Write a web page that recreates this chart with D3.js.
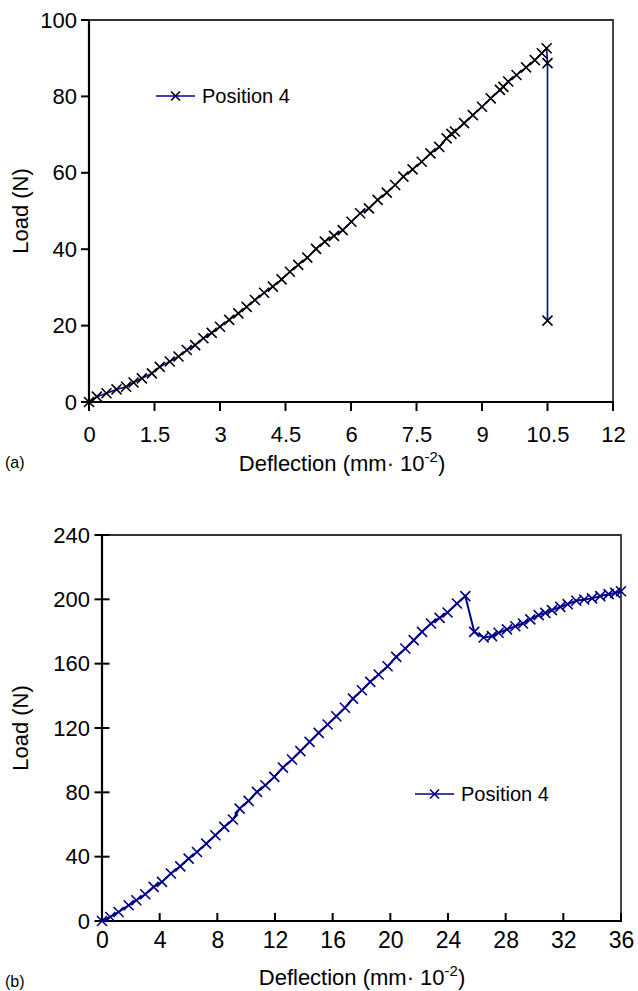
<!DOCTYPE html>
<html><head><meta charset="utf-8">
<script src="https://cdn.jsdelivr.net/npm/d3@7"></script>
<style>body{margin:0;background:#fff}svg{display:block}text{font-family:"Liberation Sans",Arial,sans-serif}</style>
</head><body>
<script>
// ---- Data ----
const topDeflection = [0,0.18,0.40,0.63,0.85,1.02,1.21,1.44,1.62,1.85,2.05,2.24,2.43,2.62,2.81,3.00,3.21,3.42,3.61,3.80,4.01,4.21,4.41,4.60,4.79,5.00,5.20,5.40,5.61,5.81,6.01,6.21,6.41,6.61,6.82,7.01,7.20,7.41,7.62,7.82,8.02,8.19,8.30,8.38,8.59,8.79,9.00,9.20,9.41,9.49,9.60,9.79,10.01,10.21,10.37,10.48,10.50,10.50];
const topLoad = [0,1.4,2.3,3.3,4.0,5.1,6.2,7.5,9.2,10.6,11.9,13.6,14.9,16.7,18.1,19.7,21.5,23.2,24.9,26.7,28.6,30.2,32.1,34.1,35.9,37.8,40.1,42.0,43.5,45.0,47.2,49.4,50.7,52.9,54.8,56.8,59.0,60.9,62.9,65.1,66.8,69.0,70.2,70.8,73.0,75.1,77.3,79.5,81.7,82.5,83.9,85.6,87.6,89.5,91.3,92.6,88.7,21.3];
const bottomDeflection = [0,0.58,1.15,1.85,2.38,3.0,3.58,4.16,4.78,5.43,6.01,6.59,7.23,7.86,8.48,9.08,9.55,10.17,10.75,11.33,11.95,12.55,13.18,13.76,14.40,15.03,15.65,16.25,16.85,17.41,18.03,18.61,19.19,19.81,20.41,21.04,21.62,22.20,22.82,23.42,23.97,24.62,25.20,25.82,26.47,27.05,27.51,28.09,28.67,29.20,29.71,30.29,30.75,31.21,31.79,32.30,32.90,33.45,33.99,34.56,35.14,35.60,36.0];
const bottomLoad = [0,2.5,5.6,9.8,12.9,16.6,21.2,24.3,29.5,34.0,38.8,42.9,48.1,53.3,58.5,63.1,69.9,74.7,80.3,84.4,89.6,95.4,100.4,105.6,111.4,117.0,122.2,127.3,132.6,138.3,143.5,148.7,153.3,158.4,164.2,169.4,174.6,179.8,185.0,188.5,191.8,197.4,202.0,179.8,176.3,177.1,179.2,181.3,183.3,185.0,187.5,190.2,191.6,193.3,195.3,197.0,199.1,199.9,200.6,202.0,203.2,204.0,205.0];
const topXTicks = [0,1.5,3,4.5,6,7.5,9,10.5,12];
const topYTicks = [0,20,40,60,80,100];
const bottomXTicks = [0,4,8,12,16,20,24,28,32,36];
const bottomYTicks = [0,40,80,120,160,200,240];
const seriesName = "Position 4";
const yTitle = "Load (N)";

const svg = d3.select("body").append("svg").attr("width",638).attr("height",991);

function xMark(g, pts, color, r){
  g.selectAll(null).data(pts).enter().append("path")
    .attr("d", d=>`M${d[0]-r},${d[1]-r}L${d[0]+r},${d[1]+r}M${d[0]-r},${d[1]+r}L${d[0]+r},${d[1]-r}`)
    .attr("stroke", color).attr("stroke-width",1.6).attr("fill","none");
}

function panel(o){
  const x = d3.scaleLinear().domain(o.xd).range([o.L,o.R]);
  const y = d3.scaleLinear().domain(o.yd).range([o.B,o.T]);
  const g = svg.append("g");
  g.append("path").attr("d",`M${o.L},${o.T}H${o.R}V${o.B}`).attr("fill","none").attr("stroke","#333").attr("stroke-width",1.8);
  const xa = g.append("g").attr("transform",`translate(0,${o.B})`)
    .call(d3.axisBottom(x).tickValues(o.xt).tickFormat(d=>String(d)).tickSize(0).tickPadding(o.xPad));
  xa.select(".domain").remove();
  xa.selectAll("text").attr("font-size",o.xfs).attr("fill","#000").attr("font-family","Liberation Sans, Arial, sans-serif");
  g.selectAll(null).data(o.xt).enter().append("line")
    .attr("x1",d=>x(d)).attr("x2",d=>x(d)).attr("y1",o.B+o.xTickA).attr("y2",o.B+o.xTickB)
    .attr("stroke","#000").attr("stroke-width",2);
  const ya = g.append("g").attr("transform",`translate(${o.L},0)`)
    .call(d3.axisLeft(y).tickValues(o.yt).tickFormat(d=>String(d)).tickSize(0).tickPadding(o.yPad));
  ya.select(".domain").remove();
  ya.selectAll("text").attr("font-size",o.yfs).attr("fill","#000").attr("font-family","Liberation Sans, Arial, sans-serif");
  g.selectAll(null).data(o.yt).enter().append("line")
    .attr("x1",o.L-o.yTickA).attr("x2",o.L+o.yTickB).attr("y1",d=>y(d)).attr("y2",d=>y(d))
    .attr("stroke","#000").attr("stroke-width",2);
  g.append("line").attr("x1",o.L).attr("x2",o.L).attr("y1",o.T).attr("y2",o.B+1).attr("stroke","#000").attr("stroke-width",2.2);
  g.append("line").attr("x1",o.L-1).attr("x2",o.R+1).attr("y1",o.B).attr("y2",o.B).attr("stroke","#000").attr("stroke-width",2.2);
  const pts = o.xs.map((v,i)=>[x(v), y(o.ys[i])]);
  g.append("path").attr("d", d3.line()(pts)).attr("fill","none").attr("stroke",o.lineColor).attr("stroke-width",o.lw);
  xMark(g, pts, o.markColor, 5);
  g.append("line").attr("x1",o.legX).attr("x2",o.legX+39).attr("y1",o.legY).attr("y2",o.legY).attr("stroke",o.lineColor).attr("stroke-width",1.6);
  xMark(g, [[o.legX+19.5,o.legY]], o.markColor, 4.5);
  g.append("text").attr("x",o.legX+46).attr("y",o.legY+7).attr("font-size",o.legFs).text(seriesName);
  g.append("text").attr("transform",`translate(${o.ytX},${(o.T+o.B)/2}) rotate(-90)`).attr("text-anchor","middle").attr("font-size",o.tfs).text(yTitle);
  const xt = g.append("text").attr("x",o.xtX).attr("y",o.xtY).attr("text-anchor","middle").attr("font-size",o.tfs);
  xt.append("tspan").text("Deflection (mm\u00B7 10");
  xt.append("tspan").attr("dy",-9).attr("font-size",o.tfs*0.68).text("-2");
  xt.append("tspan").attr("dy",9).text(")");
  g.append("text").attr("x",5).attr("y",o.labY).attr("font-family","Liberation Serif, Times New Roman, serif").attr("font-size",16).text(o.lab);
}

panel({L:89,R:613,T:20,B:402,xd:[0,12],yd:[0,100],xt:topXTicks,yt:topYTicks,
  xs:topDeflection,ys:topLoad,xfs:22,yfs:22,xPad:24,yPad:12,xTickA:0,xTickB:9,yTickA:8,yTickB:0,
  lineColor:"#0000a8",markColor:"#000",lw:1.6,legX:156,legY:96,legFs:20,tfs:22,ytX:28,xtX:342,xtY:471,labY:468,lab:"(a)"});
panel({L:102,R:621,T:535,B:921,xd:[0,36],yd:[0,240],xt:bottomXTicks,yt:bottomYTicks,
  xs:bottomDeflection,ys:bottomLoad,xfs:23,yfs:22,xPad:11,yPad:12,xTickA:-8,xTickB:0,yTickA:7.5,yTickB:7.5,
  lineColor:"#000088",markColor:"#000088",lw:2,legX:415,legY:794,legFs:20,tfs:22,ytX:28,xtX:362,xtY:985,labY:987,lab:"(b)"});
</script>
</body></html>
